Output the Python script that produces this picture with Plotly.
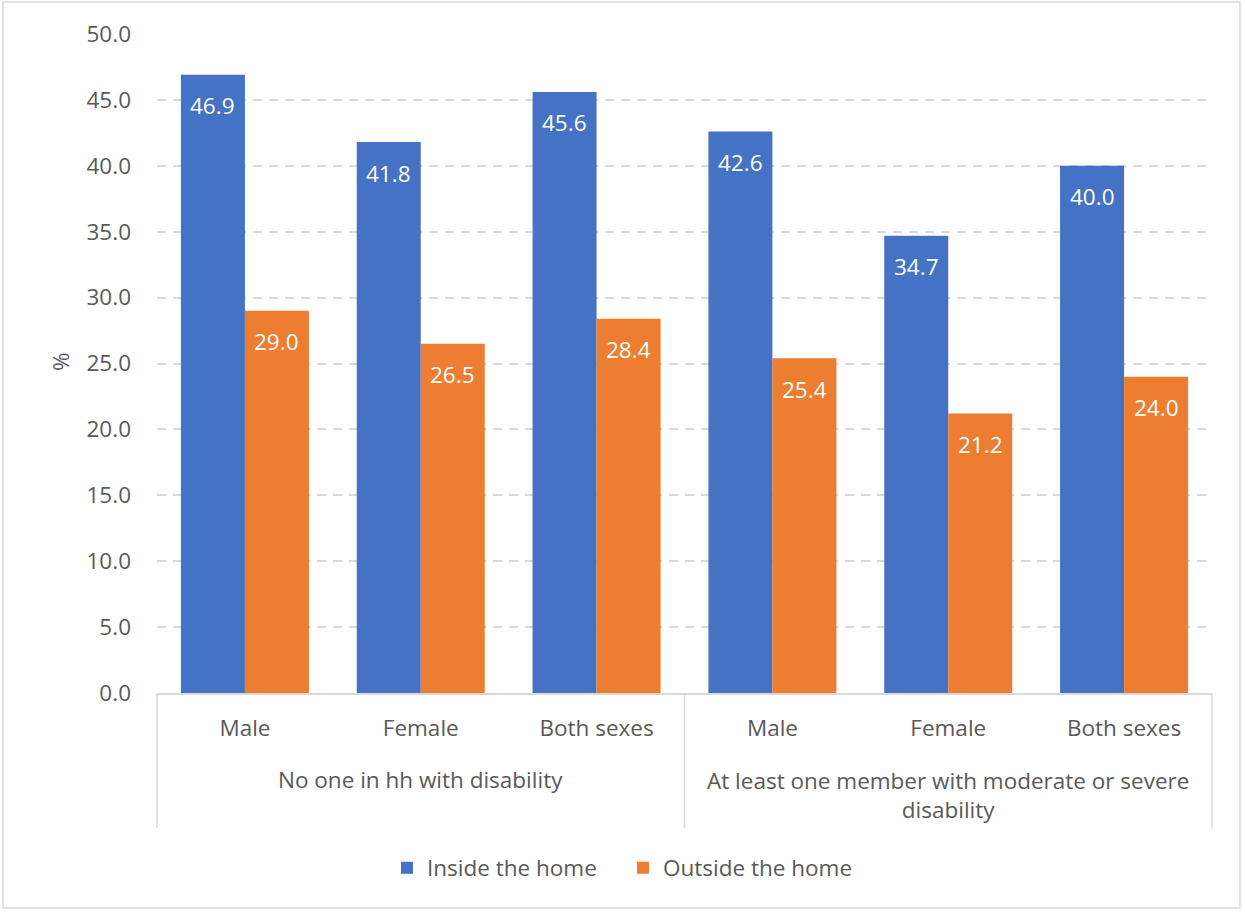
import plotly.graph_objects as go

# Household groups and sex categories
group_labels = ["No one in hh with disability",
                "At least one member with moderate or severe<br>disability"]
sexes = ["Male", "Female", "Both sexes", "Male", "Female", "Both sexes"]

inside_home = [46.9, 41.8, 45.6, 42.6, 34.7, 40.0]
outside_home = [29.0, 26.5, 28.4, 25.4, 21.2, 24.0]

y_ticks = [0, 5, 10, 15, 20, 25, 30, 35, 40, 45, 50]

BLUE = "#4472C4"
ORANGE = "#ED7D31"
TEXT = "#595959"
GRID = "#D9D9D9"
FONT = "Open Sans"
FS = 22.5

W, H = 1245, 912
L, R, T, B = 157, 1212, 34, 693
BARGAP = 0.272

positions = list(range(len(sexes)))
bar_w = (1 - BARGAP) / 2

fig = go.Figure()
series = [("Inside the home", inside_home, BLUE, -bar_w / 2),
          ("Outside the home", outside_home, ORANGE, bar_w / 2)]
for name, vals, col, _ in series:
    fig.add_trace(go.Bar(
        x=positions, y=vals, name=name, marker_color=col,
        marker_line_width=0,
    ))


def px_x(p):
    return (p - L) / (R - L)


def px_y(p):
    return (B - p) / (B - T)


annotations = []
# value labels just inside the top of each bar
for name, vals, col, off in series:
    for xi, v in zip(positions, vals):
        annotations.append(dict(
            x=xi + off, y=v, xref="x", yref="y", text=f"{v:.1f}",
            showarrow=False, yanchor="middle", yshift=-31,
            font=dict(color="white", size=FS, family=FONT)))

# group labels under the sex categories
annotations.append(dict(x=1, y=px_y(779), xref="x", yref="paper",
                        text=group_labels[0], showarrow=False,
                        yanchor="middle",
                        font=dict(size=FS, color=TEXT, family=FONT)))
annotations.append(dict(x=4, y=px_y(795), xref="x", yref="paper",
                        text=group_labels[1], showarrow=False,
                        yanchor="middle",
                        font=dict(size=FS, color=TEXT, family=FONT)))
# y-axis title
annotations.append(dict(x=px_x(60), y=px_y(362), xref="paper", yref="paper",
                        text="%", showarrow=False, textangle=-90,
                        xanchor="center", yanchor="middle",
                        font=dict(size=FS, color=TEXT, family=FONT)))

shapes = [
    # outer chart border
    dict(type="rect", xref="paper", yref="paper",
         x0=px_x(3), x1=px_x(1240), y0=px_y(908), y1=px_y(2),
         line=dict(color="#D9D9D9", width=1.5), fillcolor="rgba(0,0,0,0)",
         layer="below"),
]
# category separators below the axis
for xp in (L, (L + R) / 2, R):
    shapes.append(dict(type="line", xref="paper", yref="paper",
                       x0=px_x(xp), x1=px_x(xp), y0=px_y(B), y1=px_y(828),
                       line=dict(color=GRID, width=1.5)))

fig.update_layout(
    width=W, height=H,
    margin=dict(l=L, r=W - R, t=T, b=H - B, pad=0),
    paper_bgcolor="white", plot_bgcolor="white",
    barmode="group", bargap=BARGAP, bargroupgap=0,
    font=dict(family=FONT, color=TEXT, size=FS),
    showlegend=True,
    legend=dict(orientation="h", x=px_x(387), xanchor="left",
                y=px_y(868), yanchor="middle",
                font=dict(size=FS, color=TEXT, family=FONT),
                itemwidth=30, traceorder="normal",
                entrywidth=191, entrywidthmode="pixels"),
    yaxis=dict(range=[0, 50], tickvals=y_ticks,
               ticktext=[f"{v:.1f}" for v in y_ticks],
               showgrid=True, gridcolor=GRID, griddash="9px,7px",
               gridwidth=1.5,
               zeroline=False, showline=False, ticks="",
               tickfont=dict(size=FS, color=TEXT, family=FONT),
               ticklabelstandoff=25),
    xaxis=dict(range=[-0.5, len(sexes) - 0.5], tickvals=positions,
               ticktext=sexes, showline=True, linecolor=GRID,
               linewidth=1.5, ticks="", showgrid=False, zeroline=False,
               ticklabelstandoff=14,
               tickfont=dict(size=FS, color=TEXT, family=FONT)),
    annotations=annotations,
    shapes=shapes,
)

fig.write_html("out.html")
